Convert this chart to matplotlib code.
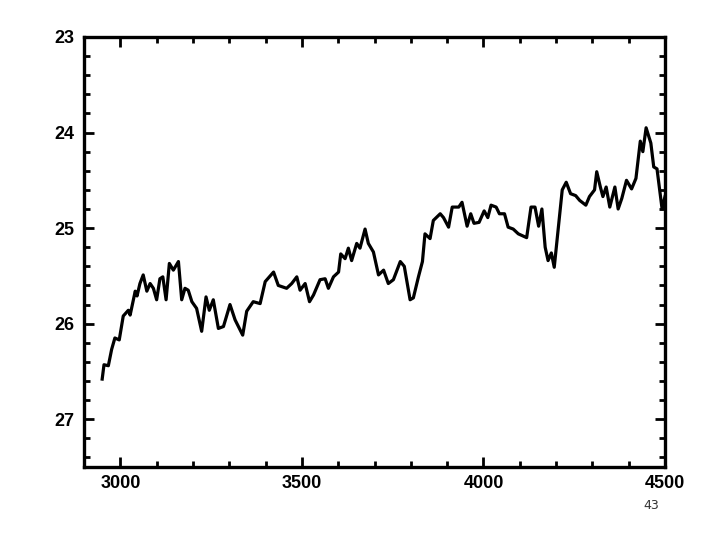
import matplotlib
matplotlib.use('Agg')
import matplotlib.pyplot as plt
from matplotlib.ticker import MultipleLocator

# series
depth = [2950, 2955, 2967, 2976, 2985, 2997, 3008, 3022, 3027, 3041, 3046, 3054,
         3063, 3073, 3082, 3091, 3100, 3109, 3117, 3126, 3135, 3146, 3160, 3169,
         3178, 3187, 3197, 3210, 3224, 3236, 3245, 3256, 3270, 3284, 3302, 3316,
         3337, 3348, 3366, 3385, 3399, 3422, 3435, 3458, 3472, 3486, 3495, 3509,
         3521, 3532, 3550, 3564, 3573, 3587, 3601, 3607, 3619, 3628, 3637, 3651,
         3660, 3674, 3683, 3697, 3711, 3725, 3738, 3752, 3771, 3782, 3798, 3807,
         3821, 3832, 3839, 3853, 3862, 3881, 3890, 3904, 3914, 3932, 3941, 3955,
         3965, 3974, 3988, 4002, 4012, 4021, 4035, 4044, 4058, 4068, 4082, 4096,
         4119, 4131, 4142, 4152, 4161, 4170, 4178, 4187, 4195, 4217, 4228, 4240,
         4254, 4265, 4282, 4292, 4306, 4312, 4322, 4329, 4338, 4348, 4362, 4371,
         4381, 4394, 4408, 4420, 4432, 4439, 4448, 4461, 4469, 4478, 4492, 4500]
value = [26.58, 26.43, 26.44, 26.27, 26.15, 26.17, 25.92, 25.86, 25.91, 25.66, 25.71, 25.58,
         25.49, 25.66, 25.58, 25.63, 25.75, 25.53, 25.51, 25.75, 25.37, 25.44, 25.35, 25.75,
         25.63, 25.65, 25.77, 25.84, 26.08, 25.72, 25.86, 25.75, 26.05, 26.03, 25.80, 25.96,
         26.12, 25.87, 25.77, 25.79, 25.56, 25.46, 25.60, 25.63, 25.58, 25.51, 25.65, 25.58,
         25.77, 25.70, 25.54, 25.53, 25.63, 25.51, 25.46, 25.27, 25.32, 25.21, 25.34, 25.16,
         25.21, 25.01, 25.16, 25.25, 25.49, 25.44, 25.58, 25.54, 25.35, 25.40, 25.75, 25.73,
         25.51, 25.35, 25.06, 25.11, 24.92, 24.85, 24.89, 24.99, 24.78, 24.78, 24.73, 24.98,
         24.85, 24.95, 24.94, 24.82, 24.89, 24.76, 24.78, 24.85, 24.85, 24.99, 25.01, 25.06,
         25.10, 24.78, 24.78, 24.98, 24.80, 25.20, 25.34, 25.26, 25.41, 24.60, 24.52, 24.64,
         24.66, 24.71, 24.76, 24.67, 24.60, 24.41, 24.57, 24.67, 24.57, 24.78, 24.57, 24.80,
         24.69, 24.50, 24.59, 24.48, 24.09, 24.20, 23.95, 24.11, 24.36, 24.38, 24.80, 24.67]

xticks = [3000, 3500, 4000, 4500]
yticks = [23, 24, 25, 26, 27]

fig = plt.figure(figsize=(7.2, 5.4), dpi=100)
ax = fig.add_axes([0.1167, 0.1352, 0.8069, 0.7963])
ax.plot(depth, value, color='black', linewidth=2.3)

ax.set_xlim(2900, 4500)
ax.set_ylim(27.5, 23)
ax.set_xticks(xticks)
ax.set_yticks(yticks)
ax.xaxis.set_minor_locator(MultipleLocator(100))
ax.yaxis.set_minor_locator(MultipleLocator(0.2))
ax.tick_params(which='both', direction='in', top=True, right=True, width=2, colors='black')
ax.tick_params(which='major', length=7)
ax.tick_params(which='minor', length=4)
ax.tick_params(axis='x', which='major', pad=6)
ax.tick_params(axis='y', which='major', pad=7)
for lab in ax.get_xticklabels() + ax.get_yticklabels():
    lab.set_fontfamily('Liberation Sans')
    lab.set_fontweight('bold')
    lab.set_fontsize(13)
for sp in ax.spines.values():
    sp.set_linewidth(2.4)

fig.text(0.905, 0.058, '43', fontsize=9, family='DejaVu Sans', color='#333333', ha='center')

fig.savefig('out.png', dpi=100)
